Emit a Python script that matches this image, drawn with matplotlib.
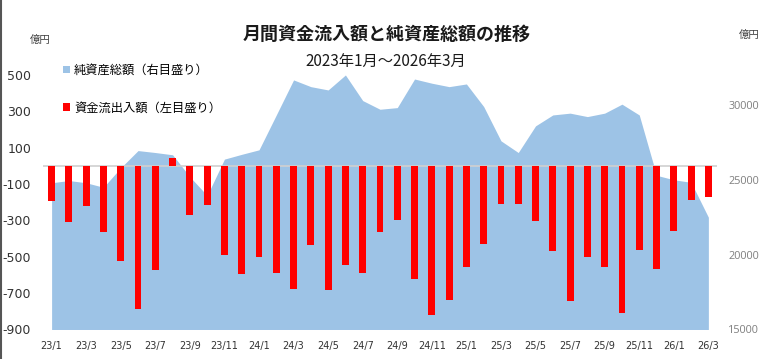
import matplotlib
matplotlib.use("Agg")
import matplotlib.pyplot as plt
from matplotlib.patches import Patch
from matplotlib.lines import Line2D
import numpy as np

plt.rcParams['font.family'] = ['Noto Sans CJK JP', 'DejaVu Sans']

# 2023/1 - 2026/3, monthly
months = ['23/1', '23/2', '23/3', '23/4', '23/5', '23/6', '23/7', '23/8', '23/9', '23/10',
          '23/11', '23/12', '24/1', '24/2', '24/3', '24/4', '24/5', '24/6', '24/7', '24/8',
          '24/9', '24/10', '24/11', '24/12', '25/1', '25/2', '25/3', '25/4', '25/5', '25/6',
          '25/7', '25/8', '25/9', '25/10', '25/11', '25/12', '26/1', '26/2', '26/3']

# 資金流出入額 (億円, left axis)
flows = [-195, -309, -223, -362, -524, -787, -575, 44, -272, -216,
         -493, -597, -500, -588, -679, -437, -683, -546, -592, -362,
         -300, -621, -822, -738, -559, -429, -208, -212, -303, -471,
         -742, -500, -559, -809, -464, -570, -360, -190, -172]

# 純資産総額 (億円, right axis)
assets = [24800, 24950, 24800, 24500, 25800, 26950, 26820, 26670, 25200, 23950,
          26380, 26700, 27000, 29330, 31670, 31220, 31000, 32000, 30290, 29710,
          29820, 31730, 31450, 31220, 31400, 29890, 27600, 26820, 28600, 29330,
          29450, 29220, 29450, 30050, 29330, 25300, 25000, 24830, 22500]

left_ticks = [500, 300, 100, -100, -300, -500, -700, -900]
right_ticks = [15000, 20000, 25000, 30000]

blue = '#9DC3E6'
red = '#FF0000'

fig = plt.figure(figsize=(7.77, 3.59), dpi=100)
ax = fig.add_axes([0.0553, 0.0822, 0.8675, 0.8103])
ax2 = ax.twinx()
ax.set_zorder(ax2.get_zorder() + 1)
ax.patch.set_visible(False)

x = np.arange(len(months))

ax2.fill_between(x, 15000, assets, color=blue, linewidth=0)
ax2.set_ylim(15000, 34430)
ax2.set_yticks(right_ticks)
ax2.set_yticklabels([str(v) for v in right_ticks], family=['Open Sans', 'DejaVu Sans'],
                    fontsize=7.8, color='#7f7f7f')

ax.axhline(0, color='#d0d0d0', linewidth=1.2, zorder=1)
ax.bar(x, flows, width=0.4, color=red, zorder=2)
ax.set_ylim(-900, 700)
ax.set_yticks(left_ticks)
ax.set_yticklabels([str(v) for v in left_ticks], family=['DejaVu Sans'],
                   fontsize=9, color='#333333')
ax.set_xlim(-0.5, len(months) - 0.5)
ax.set_xticks(x[::2])
ax.set_xticklabels(months[::2], family=['DejaVu Sans'], fontsize=7, color='#333333')

for a in (ax, ax2):
    for s in a.spines.values():
        s.set_visible(False)
    a.tick_params(length=0)
ax.tick_params(axis='y', pad=8.5)
ax.tick_params(axis='x', pad=8)
ax2.tick_params(axis='y', pad=8)

fig.text(0.497, 0.905, '月間資金流入額と純資産総額の推移', ha='center', va='center',
         fontsize=13, fontweight='bold', color='#1a1a1a')
fig.text(0.497, 0.83, '2023年1月～2026年3月', ha='center', va='center',
         fontsize=11, color='#1a1a1a')
fig.text(0.052, 0.888, '億円', ha='center', va='center', fontsize=7.5, color='#404040')
fig.text(0.964, 0.902, '億円', ha='center', va='center', fontsize=7.5, color='#404040')

handles = [Patch(facecolor=blue, edgecolor='none'), Patch(facecolor=red, edgecolor='none')]
labels = ['純資産総額（右目盛り）', '資金流出入額（左目盛り）']
ax.legend(handles, labels, loc='upper left', bbox_to_anchor=(0.081, 0.822),
          bbox_transform=fig.transFigure, frameon=False, fontsize=8.8,
          handlelength=0.6, handleheight=0.6, handletextpad=0.3,
          labelspacing=2.0, borderaxespad=0, borderpad=0)

fig.add_artist(Line2D([0.001, 0.001], [0, 1], transform=fig.transFigure,
                      color='#555555', linewidth=1.5))

fig.savefig('out.png', dpi=100)
